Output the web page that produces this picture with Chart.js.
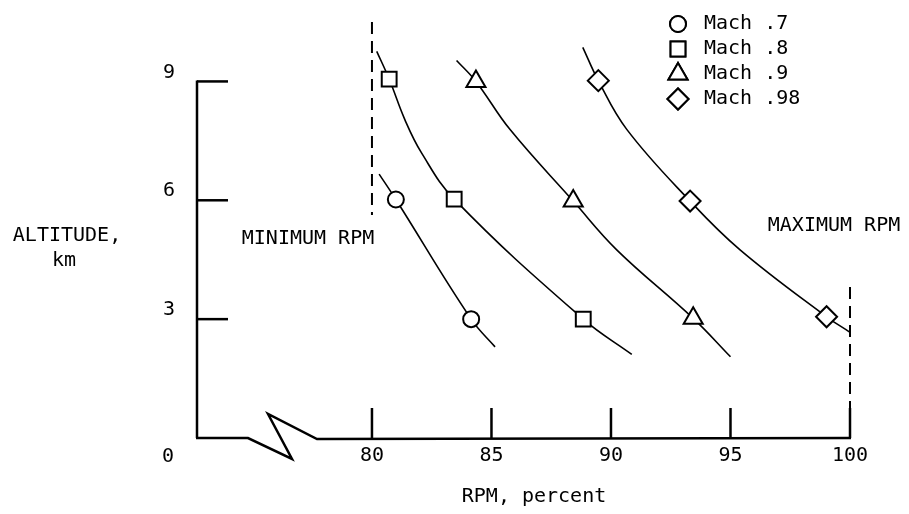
<!DOCTYPE html>
<html>
<head>
<meta charset="utf-8">
<script src="https://cdn.jsdelivr.net/npm/chart.js@4.4.1/dist/chart.umd.min.js"></script>
<style>
  body { margin: 0; background: #fff; }
  #wrap { width: 909px; height: 514px; }
</style>
</head>
<body>
<div id="wrap"><canvas id="chart" width="909" height="514"></canvas></div>
<script>
// 数据：mark=1 的是测量点（画符号），其余是从图上读出的曲线经过点
const machLabels = ['Mach .7', 'Mach .8', 'Mach .9', 'Mach .98'];
const machStyles = ['circle', 'rect', 'triangle', 'rectRot'];
const machRadius = [8, 10.5, 11, 10.5];

const mach7Rpm = [80.3, 81.0, 84.15, 85.15];
const mach7Alt = [6.66, 6.02, 3.0, 2.3];
const mach7Mark = [0, 1, 1, 0];
const mach8Rpm = [80.2, 80.72, 81.38, 82.08, 83.44, 88.84, 90.87];
const mach8Alt = [9.76, 9.06, 8.03, 7.19, 6.03, 3.0, 2.11];
const mach8Mark = [0, 1, 0, 0, 1, 1, 0];
const mach9Rpm = [83.54, 84.35, 85.77, 88.42, 90.24, 93.44, 95.0];
const mach9Alt = [9.53, 9.0, 7.79, 5.98, 4.75, 3.02, 2.05];
const mach9Mark = [0, 1, 0, 1, 0, 1, 0];
const mach98Rpm = [88.82, 89.47, 90.66, 93.31, 95.4, 99.02, 99.97];
const mach98Alt = [9.86, 9.02, 7.79, 5.98, 4.75, 3.06, 2.68];
const mach98Mark = [0, 1, 0, 1, 0, 1, 0];

const xTicks = [80, 85, 90, 95, 100];
const yTicks = [3, 6, 9];

// 最小/最大转速虚线
const minRpm = 80, minRpmAlt = [10.5, 5.63];
const maxRpm = 100, maxRpmAlt = [3.81, 0.76];

const FONT = '"DejaVu Sans Mono", "Liberation Mono", monospace';

function curve(label, rpm, alt, mark, i) {
    return {
        label: label,
        data: rpm.map((x, k) => ({ x: x, y: alt[k] })),
        borderColor: '#000',
        borderWidth: 1.6,
        backgroundColor: '#fff',
        tension: 0.4,
        pointStyle: machStyles[i],
        pointRadius: ctx => mark[ctx.dataIndex] ? machRadius[i] : 0,
        pointBorderWidth: 2,
        pointBorderColor: '#000',
        pointBackgroundColor: '#fff',
        clip: false,
        order: 1
    };
}

function refLine(x, alts) {
    return {
        label: 'ref',
        data: alts.map(a => ({ x: x, y: a })),
        borderColor: '#000',
        borderWidth: 2,
        borderDash: [12, 7],
        pointRadius: 0,
        clip: false,
        order: 2
    };
}

// 坐标轴、断轴符号、文字
const decorPlugin = {
    id: 'decor',
    afterDraw(chart) {
        const ctx = chart.ctx;
        const xs = chart.scales.x, ys = chart.scales.y;
        const left = chart.chartArea.left;
        const y0 = ys.getPixelForValue(0);
        ctx.save();
        ctx.strokeStyle = '#000';
        ctx.lineCap = 'butt';

        // y轴
        ctx.lineWidth = 2.5;
        ctx.beginPath();
        ctx.moveTo(left, ys.getPixelForValue(9) - 1);
        ctx.lineTo(left, y0);
        ctx.stroke();
        yTicks.forEach(v => {
            const py = ys.getPixelForValue(v);
            ctx.beginPath();
            ctx.moveTo(left, py);
            ctx.lineTo(left + 31, py);
            ctx.stroke();
        });

        // x轴（带断轴）
        ctx.lineJoin = 'miter';
        ctx.beginPath();
        ctx.moveTo(left - 1, y0);
        ctx.lineTo(left + 51, y0);
        ctx.lineTo(left + 95, y0 + 21);
        ctx.lineTo(left + 71, y0 - 24);
        ctx.lineTo(left + 120, y0 + 1);
        ctx.lineTo(xs.getPixelForValue(100) + 1, y0);
        ctx.stroke();
        xTicks.forEach(v => {
            const px = xs.getPixelForValue(v);
            ctx.beginPath();
            ctx.moveTo(px, y0);
            ctx.lineTo(px, y0 - 30);
            ctx.stroke();
        });

        // 文字
        ctx.fillStyle = '#000';
        ctx.font = '20px ' + FONT;
        ctx.textBaseline = 'middle';
        ctx.textAlign = 'center';
        ctx.fillText('0', 168, 457);
        ctx.fillText('ALTITUDE,', 67, 236);
        ctx.fillText('km', 64, 261);
        ctx.fillText('RPM, percent', 534, 497);
        ctx.fillText('MINIMUM RPM', 308, 239);
        ctx.fillText('MAXIMUM RPM', 834, 226);

        // 图例
        ctx.textAlign = 'left';
        const legY = [24, 49, 74, 99];
        machLabels.forEach((lab, i) => {
            ctx.lineWidth = 2;
            ctx.fillStyle = '#fff';
            Chart.helpers.drawPoint(ctx, { pointStyle: machStyles[i], radius: machRadius[i], borderWidth: 2 }, 678, legY[i]);
            ctx.fill();
            ctx.stroke();
            ctx.fillStyle = '#000';
            ctx.fillText(lab, 704, legY[i]);
        });
        ctx.restore();
    }
};

new Chart(document.getElementById('chart'), {
    type: 'line',
    data: {
        datasets: [
            curve(machLabels[0], mach7Rpm, mach7Alt, mach7Mark, 0),
            curve(machLabels[1], mach8Rpm, mach8Alt, mach8Mark, 1),
            curve(machLabels[2], mach9Rpm, mach9Alt, mach9Mark, 2),
            curve(machLabels[3], mach98Rpm, mach98Alt, mach98Mark, 3),
            refLine(minRpm, minRpmAlt),
            refLine(maxRpm, maxRpmAlt)
        ]
    },
    options: {
        responsive: false,
        animation: false,
        layout: { padding: { left: 0, right: 59, top: 22, bottom: 0 } },
        plugins: { legend: { display: false }, tooltip: { enabled: false } },
        scales: {
            x: {
                type: 'linear',
                min: 72.68,
                max: 100,
                grid: { display: false, drawTicks: false },
                border: { display: false },
                afterBuildTicks: s => { s.ticks = xTicks.map(v => ({ value: v })); },
                afterFit: s => { s.height = 76; s.paddingLeft = 0; s.paddingRight = 0; },
                ticks: { color: '#000', padding: 6, font: { family: FONT, size: 20 } }
            },
            y: {
                type: 'linear',
                min: 0,
                max: 10.5,
                grid: { display: false, drawTicks: false },
                border: { display: false },
                afterBuildTicks: s => { s.ticks = yTicks.map(v => ({ value: v })); },
                afterFit: s => { s.width = 197; s.paddingTop = 0; s.paddingBottom = 0; },
                ticks: { color: '#000', padding: 22, labelOffset: -9, font: { family: FONT, size: 20 } }
            }
        }
    },
    plugins: [decorPlugin]
});
</script>
</body>
</html>
